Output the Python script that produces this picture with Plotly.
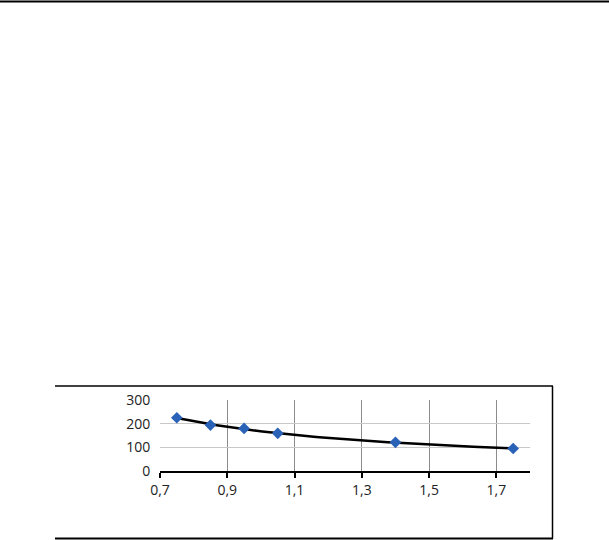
import numpy as np
import plotly.graph_objects as go

x_vals = [0.75, 0.85, 0.95, 1.05, 1.40, 1.75]
y_vals = [225, 194, 180, 159, 121, 95]
x_ticks = [0.7, 0.9, 1.1, 1.3, 1.5, 1.7]
y_ticks = [0, 100, 200, 300]

# power trendline fit (as in spreadsheet trendline)
b, loga = np.polyfit(np.log(x_vals), np.log(y_vals), 1)
xt = np.linspace(min(x_vals), max(x_vals), 60)
yt = np.exp(loga) * xt ** b

fig = go.Figure()
fig.add_trace(go.Scatter(x=xt, y=yt, mode="lines",
                         line=dict(color="black", width=2.5), hoverinfo="skip"))
fig.add_trace(go.Scatter(x=x_vals, y=y_vals, mode="markers",
                         marker=dict(symbol="diamond", size=9, color="#2A62B8",
                                     line=dict(width=0))))

W, L, R, T, B = 609, 160, 79, 400, 69
pw = W - L - R
ph = 540 - T - B
def px(x):
    return (x - L) / pw
def py(y):
    return (540 - B - y) / ph

shapes = [
    dict(type="line", xref="paper", yref="paper", x0=px(0), x1=px(609), y0=py(1.5), y1=py(1.5),
         line=dict(color="black", width=2)),
    dict(type="line", xref="paper", yref="paper", x0=px(55), x1=px(553), y0=py(386), y1=py(386),
         line=dict(color="black", width=1.5)),
    dict(type="line", xref="paper", yref="paper", x0=px(55), x1=px(553), y0=py(538.5), y1=py(538.5),
         line=dict(color="black", width=2)),
    dict(type="line", xref="paper", yref="paper", x0=px(552.5), x1=px(552.5), y0=py(386), y1=py(538.5),
         line=dict(color="black", width=1.5)),
]

fig.update_layout(
    width=609, height=540,
    margin=dict(l=L, r=R, t=T, b=B),
    paper_bgcolor="white", plot_bgcolor="white",
    showlegend=False,
    separators=",.",
    font=dict(family="Open Sans", size=14, color="#222"),
    shapes=shapes,
    xaxis=dict(range=[0.7, 1.8], tickvals=x_ticks, tickformat=".1f",
               showgrid=True, gridcolor="#8c8c8c", gridwidth=1,
               showline=True, linecolor="black", linewidth=2,
               ticks="outside", ticklen=5, tickcolor="black", tickwidth=1.5,
               zeroline=False, fixedrange=True),
    yaxis=dict(range=[0, 300], tickvals=y_ticks,
               showgrid=True, gridcolor="#c8c8c8", gridwidth=1,
               showline=False, ticks="outside", ticklen=6, tickcolor="rgba(0,0,0,0)",
               zeroline=False, fixedrange=True),
)

fig.write_html("out.html", config={"displayModeBar": False},
               post_script="document.body.style.margin='0';document.body.style.overflow='hidden';")
